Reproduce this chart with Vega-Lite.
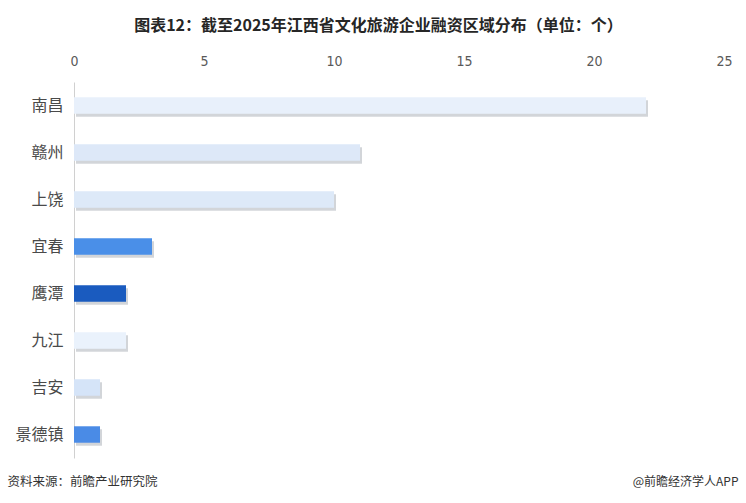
{
  "$schema": "https://vega.github.io/schema/vega-lite/v6.json",
  "width": 676,
  "height": 376,
  "autosize": {"type": "none"},
  "padding": {"left": 74, "top": 82, "right": 22, "bottom": 45},
  "background": "white",
  "title": {
    "text": "图表12：截至2025年江西省文化旅游企业融资区域分布（单位：个）",
    "font": "Noto Sans CJK SC",
    "fontSize": 16,
    "fontWeight": "bold",
    "color": "#262626",
    "anchor": "middle",
    "frame": "bounds",
    "offset": 20
  },
  "config": {
    "view": {"stroke": null},
    "font": "Noto Sans CJK SC"
  },
  "data": {
    "values": [
      {"city": "南昌", "count": 22},
      {"city": "赣州", "count": 11},
      {"city": "上饶", "count": 10},
      {"city": "宜春", "count": 3},
      {"city": "鹰潭", "count": 2},
      {"city": "九江", "count": 2},
      {"city": "吉安", "count": 1},
      {"city": "景德镇", "count": 1}
    ]
  },
  "resolve": {"axis": {"x": "independent", "y": "independent"}},
  "layer": [
    {
      "mark": {"type": "bar", "height": {"band": 0.35}, "color": "#7d8793", "opacity": 0.35, "xOffset": 2, "yOffset": 3},
      "encoding": {
        "y": {
          "field": "city", "type": "nominal", "sort": null,
          "scale": {"paddingInner": 0, "paddingOuter": 0},
          "axis": {
            "orient": "right", "labels": false, "ticks": false, "domain": false, "grid": false,
            "title": "@前瞻经济学人APP", "titleAngle": 0, "titleAlign": "right", "titleBaseline": "middle",
            "titleX": -12, "titleY": 399, "titleFontSize": 12, "titleFontWeight": "normal", "titleColor": "#333333",
            "titleFont": "Noto Sans CJK SC"
          }
        },
        "x": {
          "field": "count", "type": "quantitative",
          "scale": {"domain": [0, 25]},
          "axis": {
            "orient": "bottom", "labels": false, "ticks": false, "domain": false, "grid": false,
            "title": "资料来源：前瞻产业研究院", "titleAnchor": "start", "titleAlign": "left", "titleBaseline": "middle",
            "titleX": -67, "titleY": 23, "titleFontSize": 12.5, "titleFontWeight": "normal", "titleColor": "#333333",
            "titleFont": "Noto Sans CJK SC"
          }
        }
      }
    },
    {
      "mark": {"type": "bar", "height": {"band": 0.35}},
      "encoding": {
        "y": {
          "field": "city", "type": "nominal", "sort": null,
          "axis": {
            "orient": "left", "title": null, "ticks": false, "domain": true, "domainColor": "#d0d0d0", "grid": false,
            "labelFontSize": 16, "labelColor": "#4a4a4a", "labelPadding": 11, "labelFont": "Noto Sans CJK SC"
          }
        },
        "x": {
          "field": "count", "type": "quantitative",
          "axis": {
            "orient": "top", "title": null, "ticks": false, "domain": false, "grid": false,
            "values": [0, 5, 10, 15, 20, 25], "labelFontSize": 14, "labelColor": "#595959", "labelPadding": 14,
            "labelFont": "DejaVu Sans Condensed", "labelFlush": false
          }
        },
        "color": {
          "field": "city", "type": "nominal", "legend": null,
          "scale": {
            "domain": ["南昌", "赣州", "上饶", "宜春", "鹰潭", "九江", "吉安", "景德镇"],
            "range": ["#e8f0fb", "#dde8f8", "#dde9f8", "#4a8fe8", "#1a5bbf", "#eaf2fc", "#d5e4f8", "#4a8be6"]
          }
        }
      }
    }
  ]
}
